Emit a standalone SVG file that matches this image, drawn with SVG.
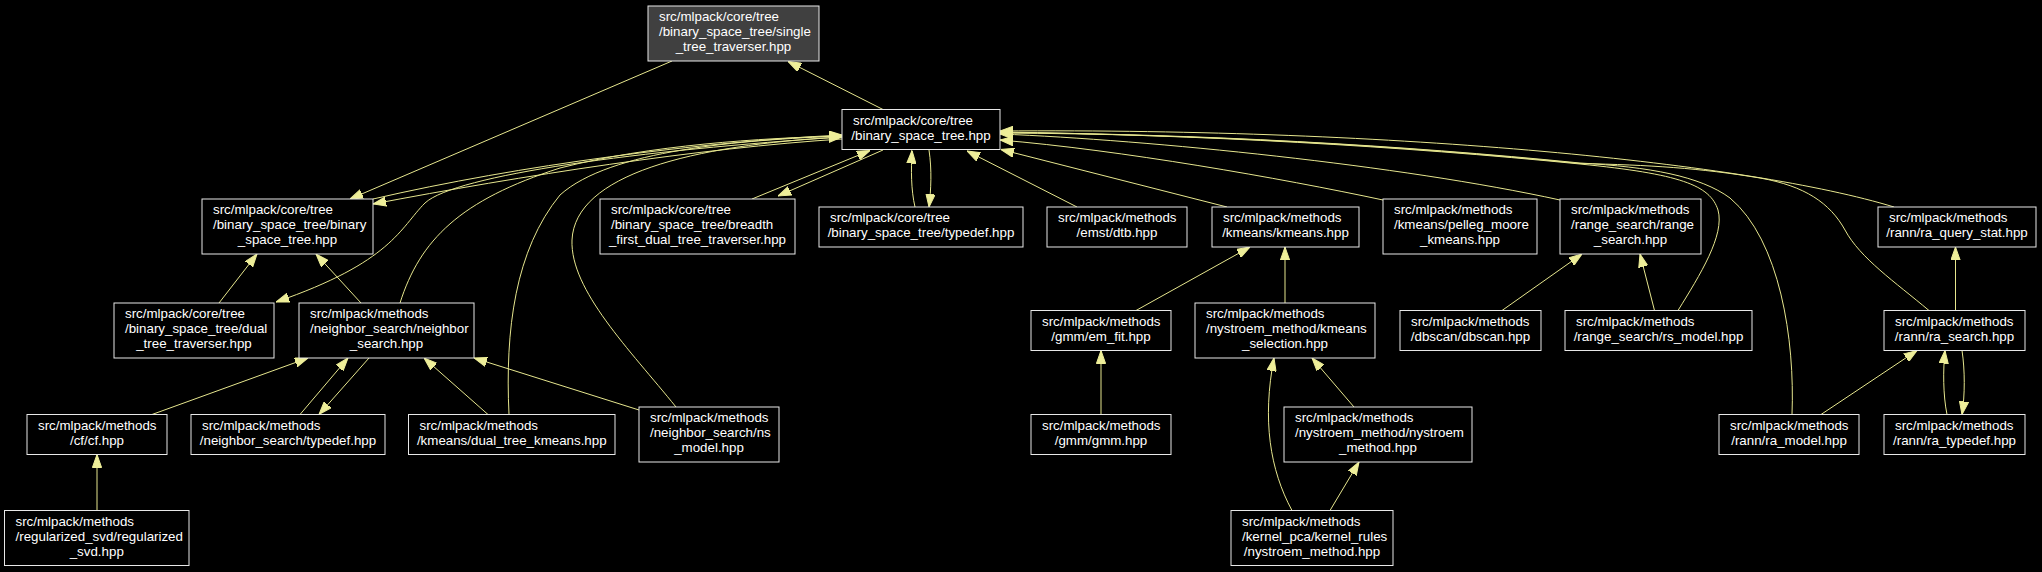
<svg xmlns="http://www.w3.org/2000/svg" width="2042" height="572" viewBox="0 0 2042 572">
<defs>
<style>
.n rect{fill:#000000;stroke:#E8E8E8;stroke-width:1}
.n.sel rect{fill:#404040}
.n text{font-family:"Liberation Sans",Arial,Helvetica,sans-serif;font-size:13.33px;fill:#FFFFFF}
.n text.c{text-anchor:middle}
.e{fill:none;stroke:#E6E68E;stroke-width:1;marker-end:url(#ah)}
</style>
<marker id="ah" viewBox="0 0 13 10" refX="13" refY="5" markerWidth="13" markerHeight="10" markerUnits="userSpaceOnUse" orient="auto">
<path d="M0,0.4 L13,5 L0,9.6 z" fill="#EEEE99" stroke="#EEEE99" stroke-width="1"/>
</marker>
</defs>
<rect x="0" y="0" width="2042" height="572" fill="#000000"/>

<g id="connectors">
<path class="e" d="M672,61 L350,199"/>
<path class="e" d="M883,109.5 L788,61.5"/>
<path class="e" d="M373,199 C520,165 700,142 842,135"/>
<path class="e" d="M842,139 C700,148 520,176 373,204"/>
<path class="e" d="M842,137 C640,150 455,175 425,203 C400,228 392,262 276,302"/>
<path class="e" d="M400,303 C420,240 460,200 560,168 C650,145 760,138 842,136"/>
<path class="e" d="M509,414.5 C505,330 515,250 560,195 C610,150 740,140 842,136"/>
<path class="e" d="M676,407 C630,350 570,290 572,240 C575,175 690,145 842,137"/>
<path class="e" d="M752,199 L870,150.5"/>
<path class="e" d="M883,150 L778,196"/>
<path class="e" d="M915,207 C911,190 911,170 912,150.5"/>
<path class="e" d="M929,150 C932,170 931,190 929,207"/>
<path class="e" d="M1077,207 L967,151"/>
<path class="e" d="M1227,207 L1001,149.5"/>
<path class="e" d="M1383,200 C1280,178 1120,150 1000,140"/>
<path class="e" d="M1560,200 C1400,165 1150,140 1000,134"/>
<path class="e" d="M1894,207 C1750,163 1400,128 1000,131"/>
<path class="e" d="M1678,310.5 C1700,275 1725,235 1718,210 C1710,185 1680,174 1580,164 C1400,146 1200,135 1000,132"/>
<path class="e" d="M1792,414.5 C1795,340 1780,240 1730,198 C1700,176 1650,167 1580,163 C1400,145 1200,134 1000,132.5"/>
<path class="e" d="M1929,310.5 C1895,282 1860,258 1845,230 C1830,203 1805,186 1760,178 C1700,168 1650,165 1580,163.5 C1400,145.5 1200,134 1000,133"/>
<path class="e" d="M1136,310.5 L1250,247"/>
<path class="e" d="M1285,303 L1285,247"/>
<path class="e" d="M1101,414.5 L1101,350.5"/>
<path class="e" d="M1354,407 L1312,358"/>
<path class="e" d="M1292,510.5 C1270,470 1262,420 1274,358"/>
<path class="e" d="M1330,510.5 L1359,462"/>
<path class="e" d="M1502,310.5 L1582,254"/>
<path class="e" d="M1654.5,310.5 L1640,254"/>
<path class="e" d="M1955.5,310.5 L1955.5,247"/>
<path class="e" d="M1821,414.5 L1917,350.5"/>
<path class="e" d="M1947,414.5 C1943,395 1943,370 1945,350.5"/>
<path class="e" d="M1962,350.5 C1965,370 1965,395 1962,414.5"/>
<path class="e" d="M219,303 L257,254"/>
<path class="e" d="M361,303 L316,254"/>
<path class="e" d="M152,414.5 L308,358"/>
<path class="e" d="M300,414.5 L348,358"/>
<path class="e" d="M369,358 L319,414.5"/>
<path class="e" d="M488,414.5 L424,358"/>
<path class="e" d="M639,410 L474,358"/>
<path class="e" d="M97,510.5 L97,454.5"/>
</g>

<g id="node0" class="n sel"><rect x="648" y="6" width="171" height="55"/>
<text x="659" y="21">src/mlpack/core/tree</text><text x="659" y="36">/binary_space_tree/single</text><text class="c" x="733.5" y="51">_tree_traverser.hpp</text></g>

<g id="node1" class="n"><rect x="842" y="109.5" width="158" height="40"/>
<text x="853" y="124.8">src/mlpack/core/tree</text><text class="c" x="921" y="139.8">/binary_space_tree.hpp</text></g>

<g id="node2" class="n"><rect x="202" y="199" width="171" height="55"/>
<text x="213" y="214">src/mlpack/core/tree</text><text x="213" y="229">/binary_space_tree/binary</text><text class="c" x="287.5" y="244">_space_tree.hpp</text></g>

<g id="node3" class="n"><rect x="600" y="199" width="195" height="55"/>
<text x="611" y="214">src/mlpack/core/tree</text><text x="611" y="229">/binary_space_tree/breadth</text><text class="c" x="697.5" y="244">_first_dual_tree_traverser.hpp</text></g>

<g id="node4" class="n"><rect x="819" y="207" width="204" height="40"/>
<text x="830" y="222.3">src/mlpack/core/tree</text><text class="c" x="921" y="237.3">/binary_space_tree/typedef.hpp</text></g>

<g id="node5" class="n"><rect x="1047" y="207" width="140" height="40"/>
<text x="1058" y="222.3">src/mlpack/methods</text><text class="c" x="1117" y="237.3">/emst/dtb.hpp</text></g>

<g id="node6" class="n"><rect x="1212" y="207" width="147" height="40"/>
<text x="1223" y="222.3">src/mlpack/methods</text><text class="c" x="1285.5" y="237.3">/kmeans/kmeans.hpp</text></g>

<g id="node7" class="n"><rect x="1383" y="199" width="154" height="55"/>
<text x="1394" y="214">src/mlpack/methods</text><text x="1394" y="229">/kmeans/pelleg_moore</text><text class="c" x="1460" y="244">_kmeans.hpp</text></g>

<g id="node8" class="n"><rect x="1560" y="199" width="141" height="55"/>
<text x="1571" y="214">src/mlpack/methods</text><text x="1571" y="229">/range_search/range</text><text class="c" x="1630.5" y="244">_search.hpp</text></g>

<g id="node9" class="n"><rect x="1878" y="207" width="158" height="40"/>
<text x="1889" y="222.3">src/mlpack/methods</text><text class="c" x="1957" y="237.3">/rann/ra_query_stat.hpp</text></g>

<g id="node10" class="n"><rect x="114" y="303" width="160" height="55"/>
<text x="125" y="318">src/mlpack/core/tree</text><text x="125" y="333">/binary_space_tree/dual</text><text class="c" x="194" y="348">_tree_traverser.hpp</text></g>

<g id="node11" class="n"><rect x="299" y="303" width="175" height="55"/>
<text x="310" y="318">src/mlpack/methods</text><text x="310" y="333">/neighbor_search/neighbor</text><text class="c" x="386.5" y="348">_search.hpp</text></g>

<g id="node12" class="n"><rect x="1031" y="310.5" width="140" height="40"/>
<text x="1042" y="325.8">src/mlpack/methods</text><text class="c" x="1101" y="340.8">/gmm/em_fit.hpp</text></g>

<g id="node13" class="n"><rect x="1195" y="303" width="180" height="55"/>
<text x="1206" y="318">src/mlpack/methods</text><text x="1206" y="333">/nystroem_method/kmeans</text><text class="c" x="1285" y="348">_selection.hpp</text></g>

<g id="node14" class="n"><rect x="1400" y="310.5" width="141" height="40"/>
<text x="1411" y="325.8">src/mlpack/methods</text><text class="c" x="1470.5" y="340.8">/dbscan/dbscan.hpp</text></g>

<g id="node15" class="n"><rect x="1565" y="310.5" width="187" height="40"/>
<text x="1576" y="325.8">src/mlpack/methods</text><text class="c" x="1658.5" y="340.8">/range_search/rs_model.hpp</text></g>

<g id="node16" class="n"><rect x="1884" y="310.5" width="141" height="40"/>
<text x="1895" y="325.8">src/mlpack/methods</text><text class="c" x="1954.5" y="340.8">/rann/ra_search.hpp</text></g>

<g id="node17" class="n"><rect x="27" y="414.5" width="140" height="40"/>
<text x="38" y="429.8">src/mlpack/methods</text><text class="c" x="97" y="444.8">/cf/cf.hpp</text></g>

<g id="node18" class="n"><rect x="191" y="414.5" width="194" height="40"/>
<text x="202" y="429.8">src/mlpack/methods</text><text class="c" x="288" y="444.8">/neighbor_search/typedef.hpp</text></g>

<g id="node19" class="n"><rect x="408.5" y="414.5" width="206.5" height="40"/>
<text x="419.5" y="429.8">src/mlpack/methods</text><text class="c" x="511.75" y="444.8">/kmeans/dual_tree_kmeans.hpp</text></g>

<g id="node20" class="n"><rect x="639" y="407" width="140" height="55"/>
<text x="650" y="422">src/mlpack/methods</text><text x="650" y="437">/neighbor_search/ns</text><text class="c" x="709" y="452">_model.hpp</text></g>

<g id="node21" class="n"><rect x="1031" y="414.5" width="140" height="40"/>
<text x="1042" y="429.8">src/mlpack/methods</text><text class="c" x="1101" y="444.8">/gmm/gmm.hpp</text></g>

<g id="node22" class="n"><rect x="1284" y="407" width="188" height="55"/>
<text x="1295" y="422">src/mlpack/methods</text><text x="1295" y="437">/nystroem_method/nystroem</text><text class="c" x="1378" y="452">_method.hpp</text></g>

<g id="node23" class="n"><rect x="1719" y="414.5" width="140" height="40"/>
<text x="1730" y="429.8">src/mlpack/methods</text><text class="c" x="1789" y="444.8">/rann/ra_model.hpp</text></g>

<g id="node24" class="n"><rect x="1884" y="414.5" width="141" height="40"/>
<text x="1895" y="429.8">src/mlpack/methods</text><text class="c" x="1954.5" y="444.8">/rann/ra_typedef.hpp</text></g>

<g id="node25" class="n"><rect x="4.5" y="510.5" width="184.5" height="55"/>
<text x="15.5" y="525.5">src/mlpack/methods</text><text x="15.5" y="540.5">/regularized_svd/regularized</text><text class="c" x="96.75" y="555.5">_svd.hpp</text></g>

<g id="node26" class="n"><rect x="1231" y="510.5" width="162" height="55"/>
<text x="1242" y="525.5">src/mlpack/methods</text><text x="1242" y="540.5">/kernel_pca/kernel_rules</text><text class="c" x="1312" y="555.5">/nystroem_method.hpp</text></g>
</svg>
